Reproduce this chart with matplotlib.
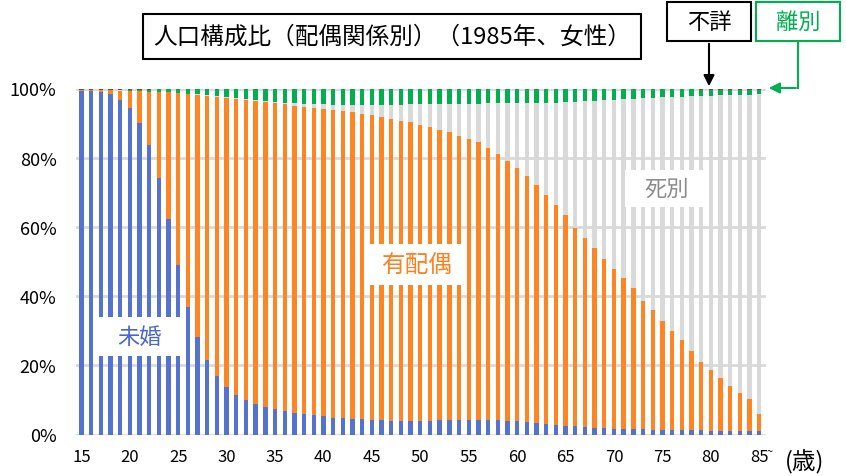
import matplotlib
matplotlib.use('Agg')
import matplotlib.pyplot as plt
from matplotlib.patches import Rectangle, FancyArrowPatch
import numpy as np

plt.rcParams['font.family'] = ['Noto Sans CJK JP', 'DejaVu Sans']

# ages 15 .. 85 (85 = 85 and over)
ages = list(range(15, 86))

# 未婚 (never married), %
mikon = [99.4, 99.3, 99.0, 98.5, 96.8, 94.4, 90.0, 83.6, 74.2, 62.3,
         49.0, 36.9, 28.1, 21.4, 16.8, 13.7, 11.4, 9.9, 8.7, 7.9,
         7.3, 6.7, 6.3, 6.0, 5.6, 5.3, 4.9, 4.8, 4.5, 4.4,
         4.2, 4.1, 4.0, 3.9, 3.9, 4.0, 4.0, 4.1, 4.2, 4.2,
         4.3, 4.2, 4.1, 4.1, 3.9, 3.8, 3.5, 3.3, 3.0, 2.7,
         2.5, 2.4, 2.2, 2.0, 1.9, 1.7, 1.7, 1.6, 1.5, 1.4,
         1.4, 1.3, 1.2, 1.2, 1.2, 1.0, 1.0, 0.9, 0.9, 0.9,
         0.9]

# 有配偶 (married), %
haiguu = [0.1, 0.2, 0.5, 1.0, 2.6, 5.0, 9.3, 15.5, 24.9, 36.6,
          49.6, 61.5, 70.1, 76.5, 80.8, 83.6, 85.6, 86.8, 87.6, 88.1,
          88.4, 88.7, 88.7, 88.7, 88.8, 88.7, 88.8, 88.6, 88.6, 88.3,
          88.0, 87.7, 87.3, 86.8, 86.4, 85.4, 84.8, 84.0, 83.3, 82.2,
          81.1, 80.2, 78.7, 76.9, 75.1, 73.3, 71.1, 68.9, 66.3, 63.5,
          60.8, 57.4, 54.7, 51.8, 48.9, 46.2, 43.6, 40.6, 37.2, 34.5,
          31.3, 28.5, 26.0, 22.9, 19.7, 17.6, 15.3, 13.2, 11.2, 9.5,
          5.1]

# 死別 (widowed), %
shibetsu = [0.0, 0.0, 0.0, 0.0, 0.05, 0.0, 0.0, 0.0, 0.0, 0.0,
            0.0, 0.1, 0.1, 0.1, 0.1, 0.2, 0.3, 0.3, 0.3, 0.4,
            0.4, 0.5, 0.7, 0.9, 1.1, 1.4, 1.6, 1.9, 2.2, 2.6,
            3.1, 3.5, 4.0, 4.6, 5.1, 6.0, 6.6, 7.4, 8.1, 9.2,
            10.2, 11.2, 12.9, 14.7, 16.7, 18.7, 21.2, 23.6, 26.6, 29.7,
            32.7, 36.3, 39.5, 42.7, 45.9, 48.9, 51.7, 54.9, 58.5, 61.4,
            64.7, 67.7, 70.4, 73.6, 77.0, 79.3, 81.7, 83.9, 86.0, 87.7,
            92.3]

# 離別 (divorced), %
ribetsu = [0.0, 0.0, 0.0, 0.0, 0.05, 0.1, 0.2, 0.4, 0.8, 1.0,
           1.25, 1.45, 1.6, 1.9, 2.2, 2.4, 2.6, 2.9, 3.3, 3.5,
           3.8, 4.0, 4.2, 4.3, 4.4, 4.5, 4.6, 4.6, 4.6, 4.6,
           4.6, 4.6, 4.6, 4.6, 4.5, 4.5, 4.5, 4.4, 4.3, 4.3,
           4.3, 4.3, 4.2, 4.2, 4.2, 4.1, 4.1, 4.1, 4.0, 4.0,
           3.9, 3.8, 3.5, 3.4, 3.2, 3.1, 2.9, 2.8, 2.7, 2.6,
           2.5, 2.4, 2.3, 2.2, 1.7, 1.7, 1.6, 1.6, 1.5, 1.5,
           1.3]

# 不詳 (unknown), %
fusho = [0.5, 0.5, 0.5, 0.5, 0.5, 0.5, 0.5, 0.5, 0.1, 0.1,
         0.1, 0.1, 0.1, 0.1, 0.1, 0.1, 0.1, 0.1, 0.1, 0.1,
         0.1, 0.1, 0.1, 0.1, 0.1, 0.1, 0.1, 0.1, 0.1, 0.1,
         0.1, 0.1, 0.1, 0.1, 0.1, 0.1, 0.1, 0.1, 0.1, 0.1,
         0.1, 0.1, 0.1, 0.1, 0.1, 0.1, 0.1, 0.1, 0.1, 0.1,
         0.1, 0.1, 0.1, 0.1, 0.1, 0.1, 0.1, 0.1, 0.1, 0.1,
         0.1, 0.1, 0.1, 0.1, 0.4, 0.4, 0.4, 0.4, 0.4, 0.4,
         0.4]

series = [mikon, haiguu, shibetsu, ribetsu, fusho]
colors = ['#5572CE', '#FF8424', '#D9D9D9', '#00B050', '#595959']

W, H = 846, 477
fig = plt.figure(figsize=(W / 100, H / 100), dpi=100)
ax = fig.add_axes([76 / W, 1 - 435.5 / H, 690 / W, 346 / H])

x = np.arange(len(ages))
bottom = np.zeros(len(ages))
for vals, c in zip(series, colors):
    vals = np.array(vals)
    ax.bar(x, vals, bottom=bottom, width=0.45, color=c, linewidth=0)
    bottom += vals

ax.set_xlim(-0.55, 70.7)
ax.set_ylim(0, 100)
ax.set_yticks([0, 20, 40, 60, 80, 100])
ax.set_yticklabels(['0%', '20%', '40%', '60%', '80%', '100%'], fontsize=13)
ax.set_xticks(x[::5])
ax.set_xticklabels([str(a) for a in ages[::5]], fontsize=12)
ax.tick_params(length=0)
ax.tick_params(axis='y', pad=14)
ax.tick_params(axis='x', pad=10)
ax.yaxis.grid(True, color='#D9D9D9', linewidth=2)
ax.set_axisbelow(True)
for s in ax.spines.values():
    s.set_visible(False)


def fx(px):
    return px / W


def fy(py):
    return 1 - py / H


def label_box(x0, y0, x1, y1, text, color, size, edge=None):
    fig.patches.append(Rectangle((fx(x0), fy(y1)), fx(x1) - fx(x0), fy(y0) - fy(y1),
                                 transform=fig.transFigure, facecolor='white',
                                 edgecolor=edge if edge else 'none',
                                 linewidth=1.5 if edge else 0, zorder=5))
    fig.text(fx((x0 + x1) / 2), fy((y0 + y1) / 2), text, color=color, fontsize=size,
             ha='center', va='center', zorder=6)


# title
label_box(143, 15, 641, 60, '人口構成比（配偶関係別）（1985年、女性）', 'black', 17, edge='black')

# labels inside the chart
label_box(98, 318, 180, 357, '未婚', '#4A68C8', 16)
label_box(370, 245, 462, 286, '有配偶', '#FF7F1E', 17)
label_box(625, 171, 708, 208, '死別', '#8C8C8C', 16)

# callouts
label_box(667, 3, 751, 42, '不詳', 'black', 16, edge='black')
label_box(756, 3, 840, 42, '離別', '#00B050', 16, edge='#00B050')

fig.patches.append(FancyArrowPatch((fx(709), fy(42)), (fx(709), fy(90)),
                                   transform=fig.transFigure, arrowstyle='-|>',
                                   mutation_scale=16, color='black', linewidth=1.5))
fig.lines.append(plt.Line2D([fx(798), fx(798)], [fy(42), fy(89)],
                            transform=fig.transFigure, color='#00B050', linewidth=1.5))
fig.patches.append(FancyArrowPatch((fx(798.7), fy(89)), (fx(766), fy(89)),
                                   transform=fig.transFigure, arrowstyle='-|>',
                                   mutation_scale=16, color='#00B050', linewidth=1.5))

# axis unit
fig.text(fx(770), fy(452), '~', fontsize=8, ha='center', va='center')
fig.text(fx(805), fy(462), '(歳)', fontsize=17, ha='center', va='center')

fig.savefig('out.png', dpi=100)
